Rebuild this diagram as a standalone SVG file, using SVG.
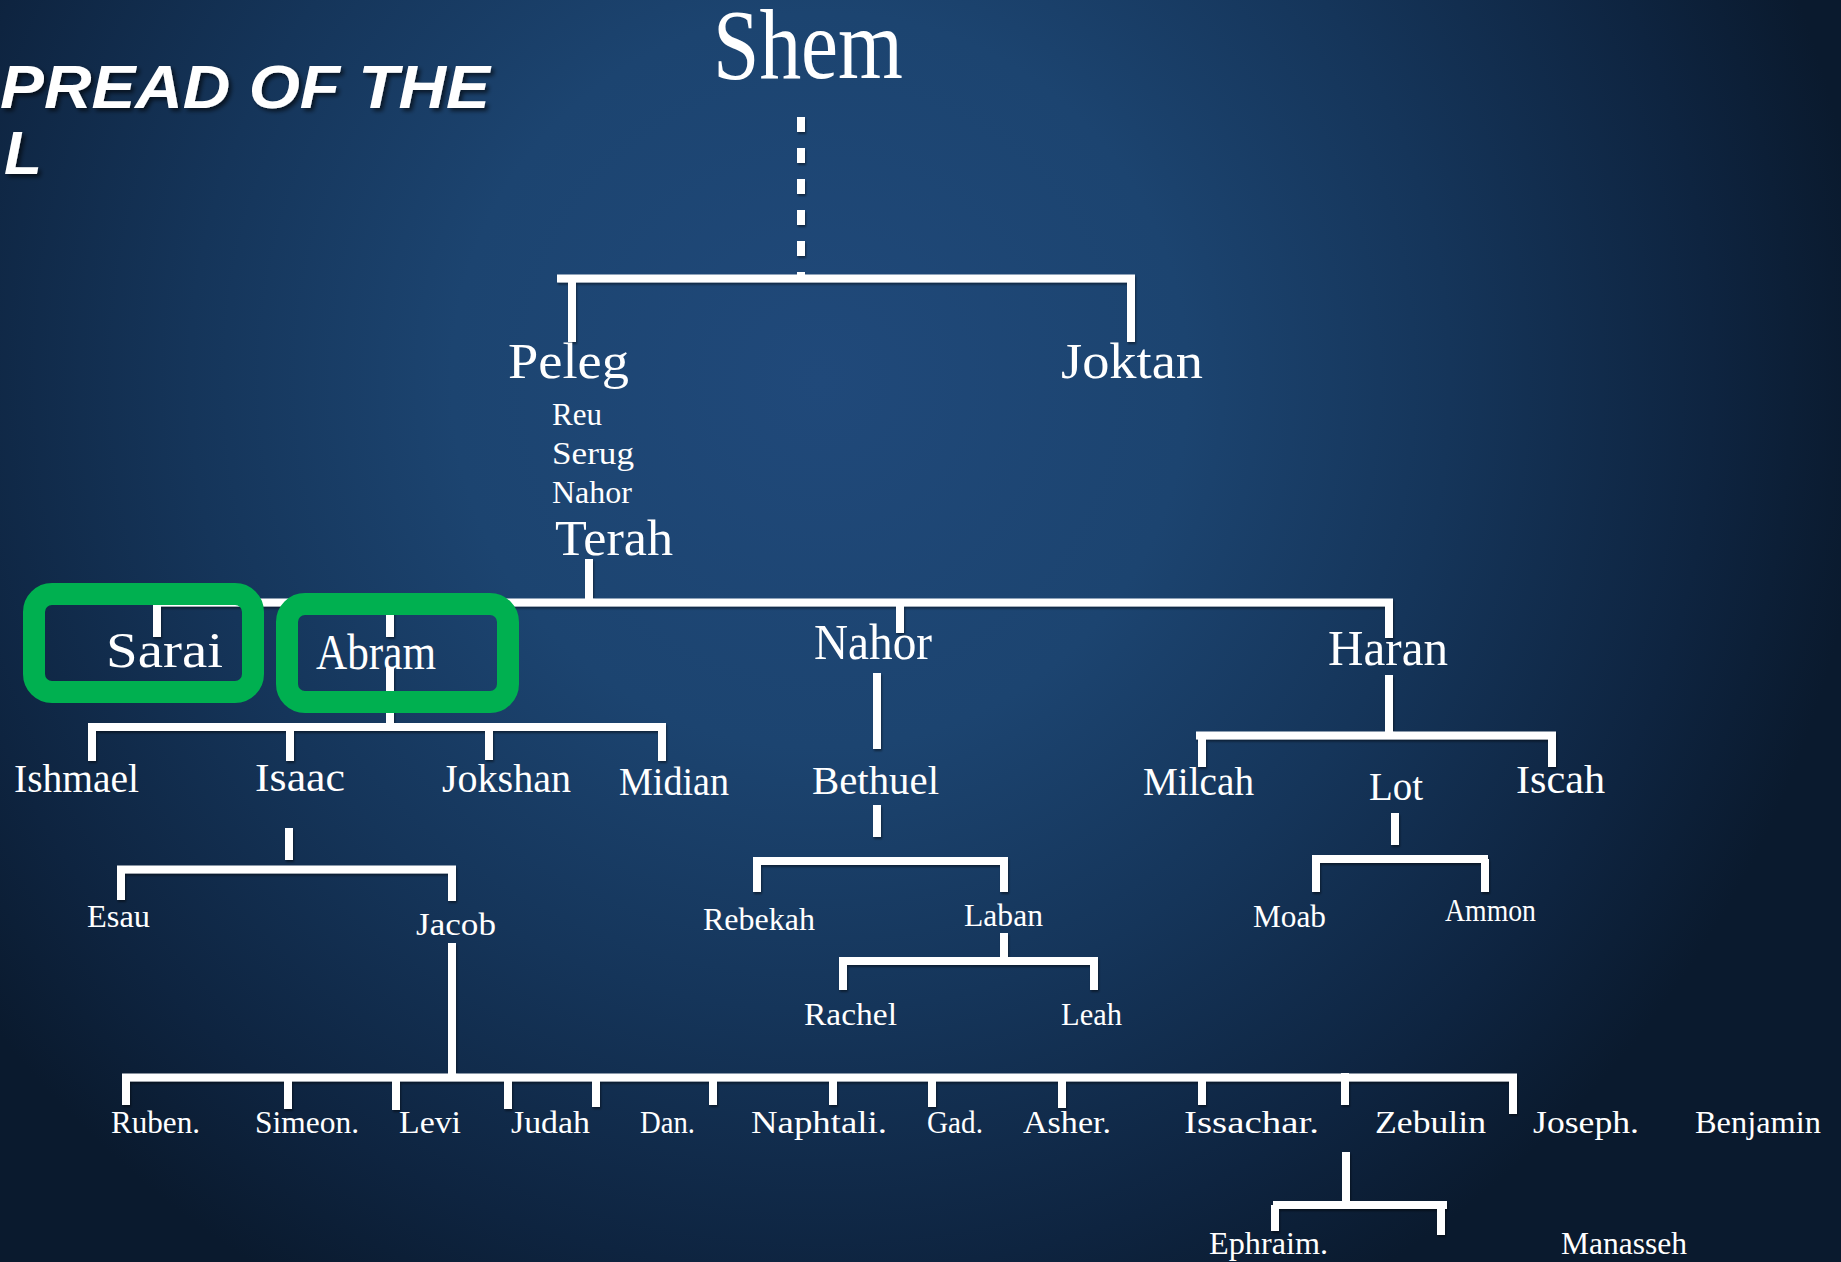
<svg xmlns="http://www.w3.org/2000/svg" width="1841" height="1262" viewBox="0 0 1841 1262">
<defs>
<radialGradient id="bg" cx="820" cy="380" r="1050" gradientUnits="userSpaceOnUse">
<stop offset="0" stop-color="#20497a"/>
<stop offset="0.35" stop-color="#1c4470"/>
<stop offset="0.6" stop-color="#15355a"/>
<stop offset="0.85" stop-color="#0e2440"/>
<stop offset="1" stop-color="#0a1a2e"/>
</radialGradient>
<filter id="sh" x="-5%" y="-5%" width="110%" height="120%">
<feDropShadow dx="1" dy="2" stdDeviation="1" flood-color="#000" flood-opacity="0.45"/>
</filter>
<filter id="tsh" x="-5%" y="-20%" width="110%" height="140%">
<feDropShadow dx="3" dy="3" stdDeviation="2" flood-color="#000" flood-opacity="0.6"/>
</filter>
</defs>
<style>
.ln{stroke:#ffffff;stroke-width:8;fill:none;stroke-linecap:butt}
.t{fill:#ffffff;font-family:"Liberation Serif","DejaVu Serif",serif}
.xl{font-size:100px}
.l{font-size:50px}
.m{font-size:39px}
.s{font-size:31px}
.box{fill:none;stroke:#00b050;stroke-width:22}
.title{fill:#ffffff;font-family:"Liberation Sans",Arial,sans-serif;font-weight:bold;font-style:italic;font-size:62px}
</style>
<rect x="0" y="0" width="1841" height="1262" fill="url(#bg)"/>

<g id="title" filter="url(#tsh)">
<text class="title" x="0" y="108" textLength="490" lengthAdjust="spacingAndGlyphs">PREAD OF THE</text>
<text class="title" x="4" y="174">L</text>
</g>

<g id="connectors" filter="url(#sh)">
<line class="ln" x1="801" y1="117" x2="801" y2="275" stroke-width="14" stroke-dasharray="15 16"/>
<line class="ln" x1="557" y1="278.5" x2="1135" y2="278.5" stroke-width="7"/>
<line class="ln" x1="572" y1="278" x2="572" y2="342" stroke-width="9"/>
<line class="ln" x1="1131" y1="278" x2="1131" y2="342" stroke-width="9"/>

<line class="ln" x1="589" y1="559" x2="589" y2="602"/>
<line class="ln" x1="153" y1="602.5" x2="1393" y2="602.5"/>
<line class="ln" x1="157" y1="602" x2="157" y2="637"/>
<line class="ln" x1="390" y1="602" x2="390" y2="637"/>
<line class="ln" x1="390" y1="668" x2="390" y2="727"/>
<line class="ln" x1="900" y1="602" x2="900" y2="633"/>
<line class="ln" x1="1389" y1="602" x2="1389" y2="638"/>

<line class="ln" x1="877" y1="673" x2="877" y2="749"/>
<line class="ln" x1="1389" y1="675" x2="1389" y2="735"/>

<line class="ln" x1="88" y1="727" x2="666" y2="727"/>
<line class="ln" x1="92" y1="727" x2="92" y2="761"/>
<line class="ln" x1="290" y1="727" x2="290" y2="761"/>
<line class="ln" x1="489" y1="727" x2="489" y2="760"/>
<line class="ln" x1="662" y1="727" x2="662" y2="761"/>

<line class="ln" x1="289" y1="828" x2="289" y2="860"/>
<line class="ln" x1="117" y1="869.5" x2="456" y2="869.5"/>
<line class="ln" x1="121" y1="869" x2="121" y2="900"/>
<line class="ln" x1="452" y1="869" x2="452" y2="901"/>

<line class="ln" x1="452" y1="943" x2="452" y2="1078"/>
<line class="ln" x1="122" y1="1077.5" x2="1517" y2="1077.5"/>
<line class="ln" x1="126" y1="1077" x2="126" y2="1105"/>
<line class="ln" x1="288" y1="1077" x2="288" y2="1109"/>
<line class="ln" x1="396" y1="1077" x2="396" y2="1110"/>
<line class="ln" x1="508" y1="1077" x2="508" y2="1109"/>
<line class="ln" x1="596" y1="1077" x2="596" y2="1107"/>
<line class="ln" x1="713" y1="1077" x2="713" y2="1105"/>
<line class="ln" x1="833" y1="1077" x2="833" y2="1105"/>
<line class="ln" x1="932" y1="1077" x2="932" y2="1107"/>
<line class="ln" x1="1062" y1="1077" x2="1062" y2="1108"/>
<line class="ln" x1="1202" y1="1077" x2="1202" y2="1105"/>
<line class="ln" x1="1345" y1="1073" x2="1345" y2="1105"/>
<line class="ln" x1="1513" y1="1077" x2="1513" y2="1114"/>

<line class="ln" x1="1346" y1="1152" x2="1346" y2="1205"/>
<line class="ln" x1="1273" y1="1205" x2="1447" y2="1205"/>
<line class="ln" x1="1275" y1="1205" x2="1275" y2="1231"/>
<line class="ln" x1="1441" y1="1201" x2="1441" y2="1235"/>

<line class="ln" x1="877" y1="805" x2="877" y2="837"/>
<line class="ln" x1="753" y1="861" x2="1008" y2="861"/>
<line class="ln" x1="757" y1="861" x2="757" y2="892"/>
<line class="ln" x1="1004" y1="861" x2="1004" y2="892"/>

<line class="ln" x1="1004" y1="933" x2="1004" y2="962"/>
<line class="ln" x1="839" y1="961" x2="1098" y2="961"/>
<line class="ln" x1="843" y1="961" x2="843" y2="990"/>
<line class="ln" x1="1094" y1="961" x2="1094" y2="990"/>

<line class="ln" x1="1196" y1="735.5" x2="1556" y2="735.5"/>
<line class="ln" x1="1202" y1="735" x2="1202" y2="767"/>
<line class="ln" x1="1552" y1="735" x2="1552" y2="767"/>

<line class="ln" x1="1395" y1="813" x2="1395" y2="845"/>
<line class="ln" x1="1312" y1="859" x2="1488" y2="859"/>
<line class="ln" x1="1316" y1="859" x2="1316" y2="892"/>
<line class="ln" x1="1485" y1="859" x2="1485" y2="892"/>
</g>

<g id="highlights">
<rect class="box" x="34" y="594" width="219" height="98" rx="18"/>
<rect class="box" x="287" y="604" width="221" height="98" rx="18"/>
</g>

<g id="shem"><text class="t xl" x="713" y="78" textLength="190" lengthAdjust="spacingAndGlyphs">Shem</text></g>
<g id="peleg"><text class="t l" x="508" y="378" textLength="121" lengthAdjust="spacingAndGlyphs">Peleg</text></g>
<g id="joktan"><text class="t l" x="1061" y="378" textLength="142" lengthAdjust="spacingAndGlyphs">Joktan</text></g>
<g id="reu"><text class="t s" x="552" y="425" textLength="50" lengthAdjust="spacingAndGlyphs">Reu</text></g>
<g id="serug"><text class="t s" x="552" y="464" textLength="82" lengthAdjust="spacingAndGlyphs">Serug</text></g>
<g id="nahor-small"><text class="t s" x="552" y="503" textLength="80" lengthAdjust="spacingAndGlyphs">Nahor</text></g>
<g id="terah"><text class="t l" x="555" y="555" textLength="118" lengthAdjust="spacingAndGlyphs">Terah</text></g>
<g id="sarai"><text class="t l" x="106" y="667" textLength="117" lengthAdjust="spacingAndGlyphs">Sarai</text></g>
<g id="abram"><text class="t l" x="316" y="669" textLength="120" lengthAdjust="spacingAndGlyphs">Abram</text></g>
<g id="nahor"><text class="t l" x="814" y="659" textLength="118" lengthAdjust="spacingAndGlyphs">Nahor</text></g>
<g id="haran"><text class="t l" x="1328" y="665" textLength="120" lengthAdjust="spacingAndGlyphs">Haran</text></g>

<g id="ishmael"><text class="t m" x="14" y="792" textLength="125" lengthAdjust="spacingAndGlyphs">Ishmael</text></g>
<g id="isaac"><text class="t m" x="255" y="791" textLength="90" lengthAdjust="spacingAndGlyphs">Isaac</text></g>
<g id="jokshan"><text class="t m" x="442" y="792" textLength="129" lengthAdjust="spacingAndGlyphs">Jokshan</text></g>
<g id="midian"><text class="t m" x="619" y="795" textLength="110" lengthAdjust="spacingAndGlyphs">Midian</text></g>
<g id="bethuel"><text class="t m" x="812" y="794" textLength="127" lengthAdjust="spacingAndGlyphs">Bethuel</text></g>
<g id="milcah"><text class="t m" x="1143" y="795" textLength="111" lengthAdjust="spacingAndGlyphs">Milcah</text></g>
<g id="lot"><text class="t m" x="1369" y="800" textLength="54" lengthAdjust="spacingAndGlyphs">Lot</text></g>
<g id="iscah"><text class="t m" x="1516" y="793" textLength="89" lengthAdjust="spacingAndGlyphs">Iscah</text></g>

<g id="esau"><text class="t s" x="87" y="927" textLength="63" lengthAdjust="spacingAndGlyphs">Esau</text></g>
<g id="jacob"><text class="t s" x="416" y="935" textLength="80" lengthAdjust="spacingAndGlyphs">Jacob</text></g>
<g id="rebekah"><text class="t s" x="703" y="930" textLength="112" lengthAdjust="spacingAndGlyphs">Rebekah</text></g>
<g id="laban"><text class="t s" x="964" y="926" textLength="79" lengthAdjust="spacingAndGlyphs">Laban</text></g>
<g id="rachel"><text class="t s" x="804" y="1025" textLength="93" lengthAdjust="spacingAndGlyphs">Rachel</text></g>
<g id="leah"><text class="t s" x="1061" y="1025" textLength="61" lengthAdjust="spacingAndGlyphs">Leah</text></g>
<g id="moab"><text class="t s" x="1253" y="927" textLength="73" lengthAdjust="spacingAndGlyphs">Moab</text></g>
<g id="ammon"><text class="t s" x="1445" y="921" textLength="91" lengthAdjust="spacingAndGlyphs">Ammon</text></g>

<g id="ruben"><text class="t s" x="111" y="1133" textLength="89" lengthAdjust="spacingAndGlyphs">Ruben.</text></g>
<g id="simeon"><text class="t s" x="255" y="1133" textLength="104" lengthAdjust="spacingAndGlyphs">Simeon.</text></g>
<g id="levi"><text class="t s" x="399" y="1133" textLength="62" lengthAdjust="spacingAndGlyphs">Levi</text></g>
<g id="judah"><text class="t s" x="511" y="1133" textLength="79" lengthAdjust="spacingAndGlyphs">Judah</text></g>
<g id="dan"><text class="t s" x="640" y="1133" textLength="55" lengthAdjust="spacingAndGlyphs">Dan.</text></g>
<g id="naphtali"><text class="t s" x="751" y="1133" textLength="136" lengthAdjust="spacingAndGlyphs">Naphtali.</text></g>
<g id="gad"><text class="t s" x="927" y="1133" textLength="56" lengthAdjust="spacingAndGlyphs">Gad.</text></g>
<g id="asher"><text class="t s" x="1023" y="1133" textLength="88" lengthAdjust="spacingAndGlyphs">Asher.</text></g>
<g id="issachar"><text class="t s" x="1184" y="1133" textLength="135" lengthAdjust="spacingAndGlyphs">Issachar.</text></g>
<g id="zebulin"><text class="t s" x="1375" y="1133" textLength="111" lengthAdjust="spacingAndGlyphs">Zebulin</text></g>
<g id="joseph"><text class="t s" x="1533" y="1133" textLength="106" lengthAdjust="spacingAndGlyphs">Joseph.</text></g>
<g id="benjamin"><text class="t s" x="1695" y="1133" textLength="126" lengthAdjust="spacingAndGlyphs">Benjamin</text></g>
<g id="ephraim"><text class="t s" x="1209" y="1254" textLength="119" lengthAdjust="spacingAndGlyphs">Ephraim.</text></g>
<g id="manasseh"><text class="t s" x="1561" y="1254" textLength="126" lengthAdjust="spacingAndGlyphs">Manasseh</text></g>
</svg>
